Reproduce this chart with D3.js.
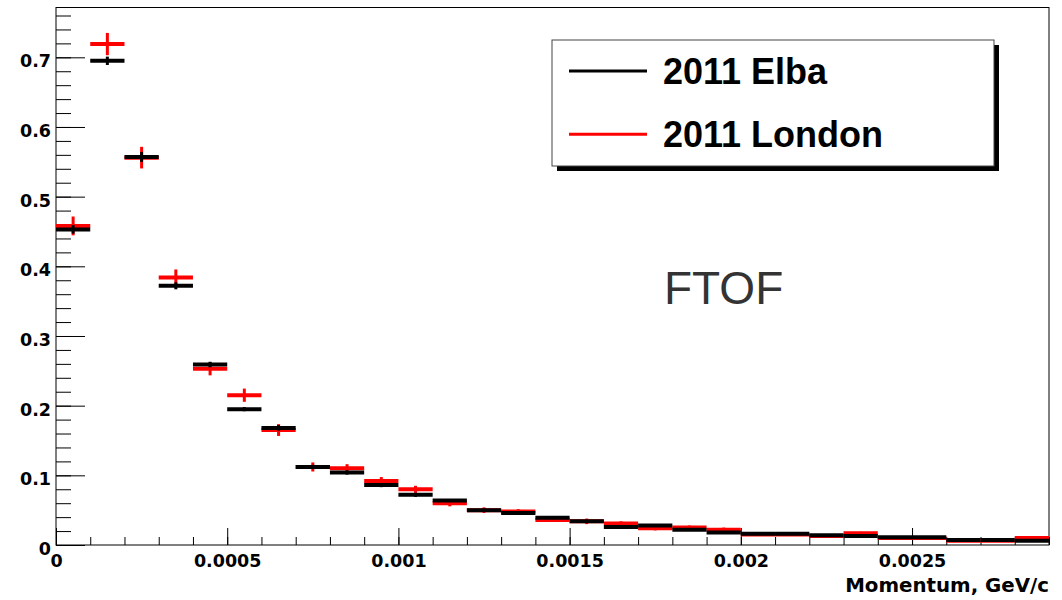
<!DOCTYPE html>
<html>
<head>
<meta charset="utf-8">
<script src="https://cdn.jsdelivr.net/npm/d3@7"></script>
<style>
  body { margin: 0; background: #fff; }
  svg { display: block; }
</style>
</head>
<body>
<div id="chart"></div>
<script>
// histogram bins: 29 bins of 0.0001 GeV/c starting at 0
const binWidth = 0.0001;
const binLow = d3.range(29).map(i => +(i * binWidth).toFixed(5));

const elba = [0.453, 0.695, 0.557, 0.372, 0.259, 0.195, 0.168, 0.112, 0.104, 0.086,
              0.072, 0.064, 0.050, 0.046, 0.039, 0.034, 0.026, 0.028, 0.022, 0.018,
              0.016, 0.016, 0.014, 0.013, 0.011, 0.011, 0.007, 0.007, 0.006];
const elbaErr = [0.006, 0.006, 0.007, 0.005, 0.004, 0.003, 0.004, 0.003, 0.003, 0.003,
                 0.003, 0.002, 0.002, 0.002, 0.002, 0.002, 0.002, 0.0015, 0.0015, 0.0015,
                 0.0015, 0.0015, 0.001, 0.001, 0.001, 0.001, 0.001, 0.001, 0.001];

const london = [0.458, 0.719, 0.556, 0.384, 0.253, 0.215, 0.165, 0.112, 0.110, 0.092,
                0.080, 0.060, 0.050, 0.048, 0.036, 0.034, 0.031, 0.024, 0.025, 0.022,
                0.015, 0.015, 0.013, 0.017, 0.010, 0.010, 0.006, 0.006, 0.010];
const londonErr = [0.0135, 0.016, 0.0155, 0.0115, 0.0095, 0.0095, 0.0085, 0.0065, 0.006, 0.0055,
                   0.005, 0.0045, 0.004, 0.0035, 0.003, 0.004, 0.003, 0.003, 0.003, 0.003,
                   0.002, 0.002, 0.002, 0.002, 0.002, 0.002, 0.0015, 0.0015, 0.0015];

const seriesNames = ["2011 Elba", "2011 London"];
const seriesColors = ["#000000", "#ff0000"];

const xTicks = [0, 0.0005, 0.001, 0.0015, 0.002, 0.0025];
const xTickLabels = ["0", "0.0005", "0.001", "0.0015", "0.002", "0.0025"];
const yTicks = [0, 0.1, 0.2, 0.3, 0.4, 0.5, 0.6, 0.7];
const yTickLabels = ["0", "0.1", "0.2", "0.3", "0.4", "0.5", "0.6", "0.7"];

const xTitle = "Momentum, GeV/c";
const annotation = "FTOF";

const width = 1062;
const height = 600;
const plotLeft = 56, plotRight = 1049, plotTop = 7.5, plotBottom = 545;

const x = d3.scaleLinear().domain([0, 0.0029]).range([plotLeft, plotRight]);
const y = d3.scaleLinear().domain([0, 0.7715]).range([plotBottom, plotTop]);

const svg = d3.select("#chart")
              .append("svg")
              .attr("width", width)
              .attr("height", height);

svg.append("rect")
   .attr("width", width).attr("height", height)
   .attr("fill", "#fff");

// frame
svg.append("rect")
   .attr("x", plotLeft).attr("y", plotTop)
   .attr("width", plotRight - plotLeft).attr("height", plotBottom - plotTop)
   .attr("fill", "none")
   .attr("stroke", "#000")
   .attr("stroke-width", 1);

const axisFont = "'DejaVu Sans', sans-serif";

// y axis: minor ticks every 0.02, major every 0.1
const yMinor = d3.range(0, 0.77, 0.02).map(v => +v.toFixed(2));
svg.append("g")
   .attr("transform", `translate(${plotLeft},0)`)
   .call(d3.axisLeft(y).tickValues(yMinor).tickSize(-15).tickFormat(""))
   .call(g => g.select(".domain").remove());

svg.append("g")
   .attr("class", "axis --axis-y")
   .attr("transform", `translate(${plotLeft},0)`)
   .call(d3.axisLeft(y).tickValues(yTicks).tickSize(-29).tickPadding(5)
           .tickFormat((d, i) => yTickLabels[i]))
   .call(g => g.select(".domain").remove())
   .call(g => g.selectAll("text")
               .attr("dy", "9.4px")
               .attr("font-family", axisFont)
               .attr("font-weight", "bold")
               .attr("font-size", "17.5px")
               .attr("fill", "#000"));

// x axis: minor ticks at each bin edge, major every 0.0005
const xMinor = d3.range(0, 30).map(i => +(i * binWidth).toFixed(5));
svg.append("g")
   .attr("transform", `translate(0,${plotBottom})`)
   .call(d3.axisBottom(x).tickValues(xMinor).tickSize(-8).tickFormat(""))
   .call(g => g.select(".domain").remove());

svg.append("g")
   .attr("class", "axis --axis-x")
   .attr("transform", `translate(0,${plotBottom})`)
   .call(d3.axisBottom(x).tickValues(xTicks).tickSize(-17).tickPadding(10)
           .tickFormat((d, i) => xTickLabels[i]))
   .call(g => g.select(".domain").remove())
   .call(g => g.selectAll("text")
               .attr("font-family", axisFont)
               .attr("font-weight", "bold")
               .attr("font-size", "17.5px")
               .attr("fill", "#000"));

svg.selectAll(".tick line").attr("stroke", "#000");

svg.append("text")
   .attr("x", plotRight)
   .attr("y", 592)
   .attr("text-anchor", "end")
   .attr("font-family", axisFont)
   .attr("font-weight", "bold")
   .attr("font-size", "19.8px")
   .text(xTitle);

// histograms: London first, Elba on top
const series = [
  { name: seriesNames[1], color: seriesColors[1], values: london, errs: londonErr },
  { name: seriesNames[0], color: seriesColors[0], values: elba, errs: elbaErr }
];

series.forEach(s => {
  const g = svg.append("g").attr("class", "hist");
  const rows = binLow.map((lo, i) => ({ lo: lo, hi: lo + binWidth, v: s.values[i], e: s.errs[i] }));

  g.selectAll("line.h")
   .data(rows)
   .enter()
   .append("line")
    .attr("class", "h")
    .attr("x1", d => x(d.lo))
    .attr("x2", d => x(d.hi))
    .attr("y1", d => y(d.v))
    .attr("y2", d => y(d.v))
    .attr("stroke", s.color)
    .attr("stroke-width", 4);

  g.selectAll("line.e")
   .data(rows)
   .enter()
   .append("line")
    .attr("class", "e")
    .attr("x1", d => x(d.lo + binWidth / 2))
    .attr("x2", d => x(d.lo + binWidth / 2))
    .attr("y1", d => y(d.v - d.e))
    .attr("y2", d => y(d.v + d.e))
    .attr("stroke", s.color)
    .attr("stroke-width", 3);
});

// legend
const lx = 552, ly = 40, lw = 442, lh = 126;
svg.append("rect")
   .attr("x", lx + 5).attr("y", ly + 5)
   .attr("width", lw).attr("height", lh)
   .attr("fill", "#000");
svg.append("rect")
   .attr("x", lx).attr("y", ly)
   .attr("width", lw).attr("height", lh)
   .attr("fill", "#fff")
   .attr("stroke", "#444")
   .attr("stroke-width", 1);

const legendRows = svg.selectAll("g.legend")
                      .data(seriesNames)
                      .enter()
                      .append("g")
                       .attr("class", "legend")
                       .attr("transform", (d, i) => `translate(${lx}, ${ly + 31 + i * 63.3})`);

legendRows.append("line")
          .attr("x1", 17).attr("x2", 95)
          .attr("stroke", (d, i) => seriesColors[i])
          .attr("stroke-width", 3);

legendRows.append("text")
          .attr("x", 111)
          .attr("y", 12.5)
          .attr("font-family", "'Liberation Sans', Arial, sans-serif")
          .attr("font-weight", "bold")
          .attr("font-size", "36px")
          .text(d => d);

svg.append("text")
   .attr("x", 664)
   .attr("y", 303.5)
   .attr("font-family", "'Liberation Sans', Arial, sans-serif")
   .attr("font-size", "46px")
   .attr("fill", "#333")
   .text(annotation);
</script>
</body>
</html>
